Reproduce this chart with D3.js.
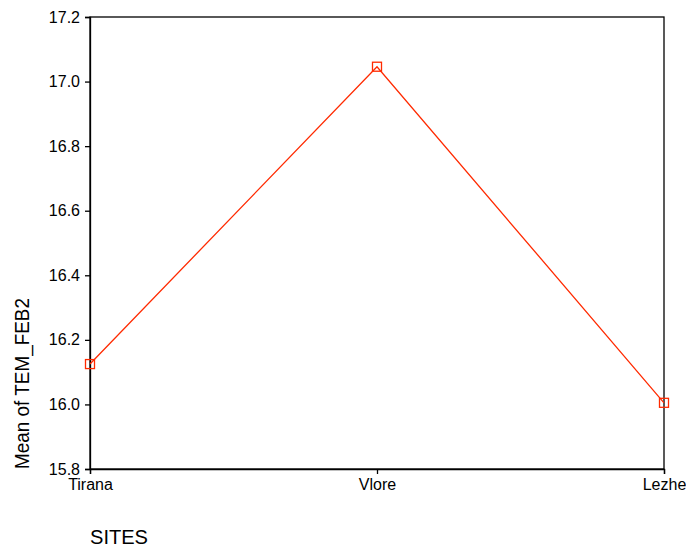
<!DOCTYPE html>
<html><head><meta charset="utf-8">
<script src="https://cdn.jsdelivr.net/npm/d3@7"></script>
<style>body{margin:0;background:#fff}svg{display:block}text{font-family:"Liberation Sans",Arial,sans-serif;fill:#000}</style>
</head><body>
<script>
const categories = ["Tirana", "Vlore", "Lezhe"];
const values = [16.125, 17.046, 16.005];
const yTicks = [15.8, 16.0, 16.2, 16.4, 16.6, 16.8, 17.0, 17.2];

const W = 686, H = 550;
const m = {left: 90, right: 22, top: 17, bottom: 81};
const svg = d3.select("body").append("svg").attr("width", W).attr("height", H);
const x = d3.scalePoint().domain(categories).range([m.left, W - m.right]);
const y = d3.scaleLinear().domain([15.8, 17.2]).range([H - m.bottom, m.top]);

// frame
svg.append("rect").attr("x", m.left).attr("y", m.top)
  .attr("width", W - m.right - m.left).attr("height", H - m.bottom - m.top)
  .attr("fill", "none").attr("stroke", "#000").attr("stroke-width", 1.3);

const ya = svg.append("g").attr("transform", `translate(${m.left},0)`)
  .call(d3.axisLeft(y).tickValues(yTicks).tickFormat(d3.format(".1f")).tickSize(5).tickPadding(5));
ya.select(".domain").attr("stroke-width", 1.3);
ya.selectAll("line").attr("stroke-width", 1.3);
ya.selectAll("text").style("font-size", "16px");

const xa = svg.append("g").attr("transform", `translate(0,${H - m.bottom})`)
  .call(d3.axisBottom(x).tickSize(5).tickPadding(5));
xa.select(".domain").attr("stroke-width", 1.3);
xa.selectAll("line").attr("stroke-width", 1.3);
xa.selectAll("text").style("font-size", "16px");

svg.append("text").attr("transform", `translate(29,${H - m.bottom}) rotate(-90)`)
  .attr("text-anchor", "start").style("font-size", "20px")
  .attr("textLength", 171).attr("lengthAdjust", "spacingAndGlyphs")
  .text("Mean of TEM_FEB2");
svg.append("text").attr("x", 90).attr("y", 544).style("font-size", "20px")
  .attr("textLength", 58).attr("lengthAdjust", "spacingAndGlyphs").text("SITES");

const color = "#ff2a00";
const line = d3.line().x((d, i) => x(categories[i])).y(d => y(d));
svg.append("path").datum(values).attr("d", line).attr("fill", "none")
  .attr("stroke", color).attr("stroke-width", 1.3);
svg.selectAll("rect.pt").data(values).enter().append("rect").attr("class", "pt")
  .attr("x", (d, i) => x(categories[i]) - 4.5).attr("y", d => y(d) - 4.5)
  .attr("width", 9).attr("height", 9).attr("fill", "none")
  .attr("stroke", color).attr("stroke-width", 1.3);
</script>
</body></html>
